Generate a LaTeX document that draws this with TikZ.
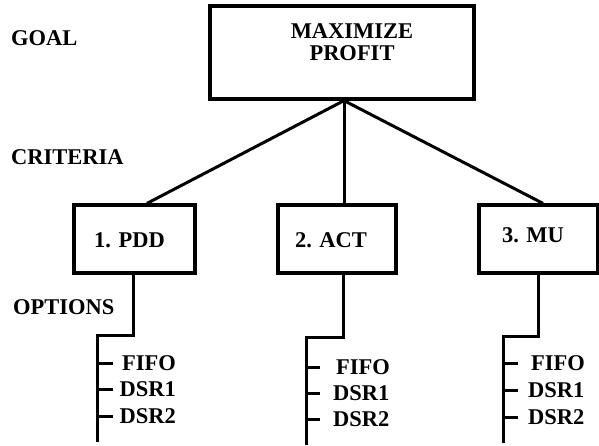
\documentclass[tikz,border=0pt]{standalone}
\usepackage{fontspec}
\setmainfont{Liberation Serif}
\begin{document}
\begin{tikzpicture}[x=1pt,y=-1pt,
  lbl/.style={font=\fontsize{22.5}{22.5}\selectfont\bfseries, inner sep=0pt},
  box/.style={draw, line width=3.2pt, inner sep=0pt},
  conn/.style={line width=3pt},
  opt/.style={lbl, anchor=west}]
\useasboundingbox (0,0) rectangle (599,445);

% side labels
\node[lbl, anchor=west] (goal) at (11,38.5) {GOAL};
\node[lbl, anchor=west] (crit) at (11,157) {CRITERIA};
\node[lbl, anchor=west] (opts) at (13,307) {OPTIONS};

% goal box
\node[box, minimum width=264pt, minimum height=93pt] (top) at (342,52.5) {};
\node[lbl, align=center] (toptext) at (352,42) {MAXIMIZE\\PROFIT};

% criteria boxes
\node[box, minimum width=121pt, minimum height=68pt] (c1) at (134.5,239) {};
\node[lbl] (c1t) at (129.5,240) {1. PDD};
\node[box, minimum width=118pt, minimum height=68pt] (c2) at (337,239) {};
\node[lbl] (c2t) at (331,240.5) {2. ACT};
\node[box, minimum width=119pt, minimum height=68pt] (c3) at (538.5,239) {};
\node[lbl] (c3t) at (533,235.5) {3. MU};

% goal to criteria
\coordinate (apex) at ([xshift=2pt]top.south);
\draw[conn] (apex) -- ([xshift=12.5pt]c1.north);
\draw[conn] (apex) -- ([xshift=7pt]c2.north);
\draw[conn] (apex) -- ([xshift=4.5pt]c3.north);

% option trees
\coordinate (r1) at (97,335);
\coordinate (e1) at (97,442);
\coordinate (r2) at (306,337);
\coordinate (e2) at (306,445);
\coordinate (r3) at (503,336);
\coordinate (e3) at (503,443);
\draw[conn] ([xshift=-1.5pt]c1.south) |- (r1) -- (e1);
\draw[conn] ([xshift=6pt]c2.south) |- (r2) -- (e2);
\draw[conn] ([xshift=-0.5pt]c3.south) |- (r3) -- (e3);

% options PDD
\node[opt] (f1) at (122,363) {FIFO};
\node[opt] (d11) at (119.5,389) {DSR1};
\node[opt] (d12) at (119.5,416) {DSR2};
% options ACT
\node[opt] (f2) at (336,367) {FIFO};
\node[opt] (d21) at (333,393) {DSR1};
\node[opt] (d22) at (333,419) {DSR2};
% options MU
\node[opt] (f3) at (531,363) {FIFO};
\node[opt] (d31) at (528,390) {DSR1};
\node[opt] (d32) at (528,417) {DSR2};

% ticks
\foreach \n in {f1,d11,d12}{\draw[conn] (\n.west -| r1) -- ++(16,0);}
\foreach \n in {f2,d21,d22}{\draw[conn] (\n.west -| r2) -- ++(14,0);}
\foreach \n in {f3,d31,d32}{\draw[conn] (\n.west -| r3) -- ++(15,0);}
\end{tikzpicture}
\end{document}
